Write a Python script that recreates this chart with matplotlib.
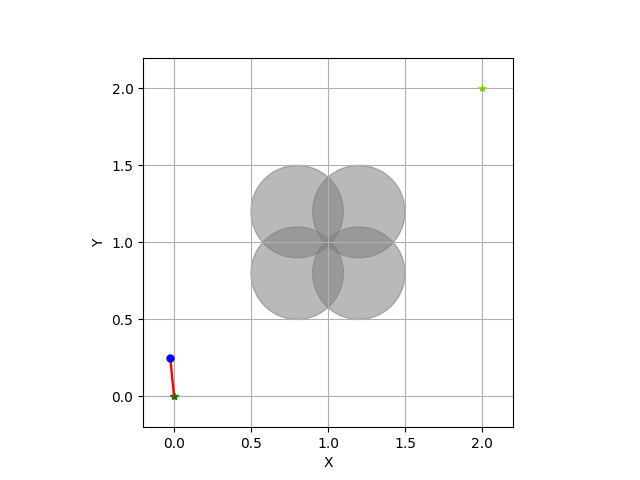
import matplotlib
matplotlib.use('Agg')
import matplotlib.pyplot as plt
from matplotlib.patches import Circle

# obstacles (centre x, centre y), radius
obs_x = [0.8, 1.2, 0.8, 1.2]
obs_y = [0.8, 0.8, 1.2, 1.2]
obs_r = 0.3

start = (0.0, 0.0)
goal = (2.0, 2.0)

# robot path so far
traj_x = [0.0, -0.005, -0.012, -0.018, -0.025]
traj_y = [0.0, 0.06, 0.12, 0.19, 0.25]

fig, ax = plt.subplots(figsize=(6.4, 4.8), dpi=100)

for cx, cy in zip(obs_x, obs_y):
    ax.add_patch(Circle((cx, cy), obs_r, color='gray', alpha=0.55))

ax.plot(goal[0], goal[1], '*', color='lime', markeredgecolor='orange',
        markeredgewidth=0.5, markersize=6)
ax.plot(start[0], start[1], '*g', markersize=6)
ax.plot(traj_x, traj_y, '-r', linewidth=1.7)
ax.plot(traj_x[-1], traj_y[-1], 'ob', markersize=5)

ax.set_xlim(-0.2, 2.2)
ax.set_ylim(-0.2, 2.2)
ax.set_aspect('equal')
ax.grid(True)
ax.set_xlabel('X')
ax.set_ylabel('Y')

plt.savefig('out.png')
